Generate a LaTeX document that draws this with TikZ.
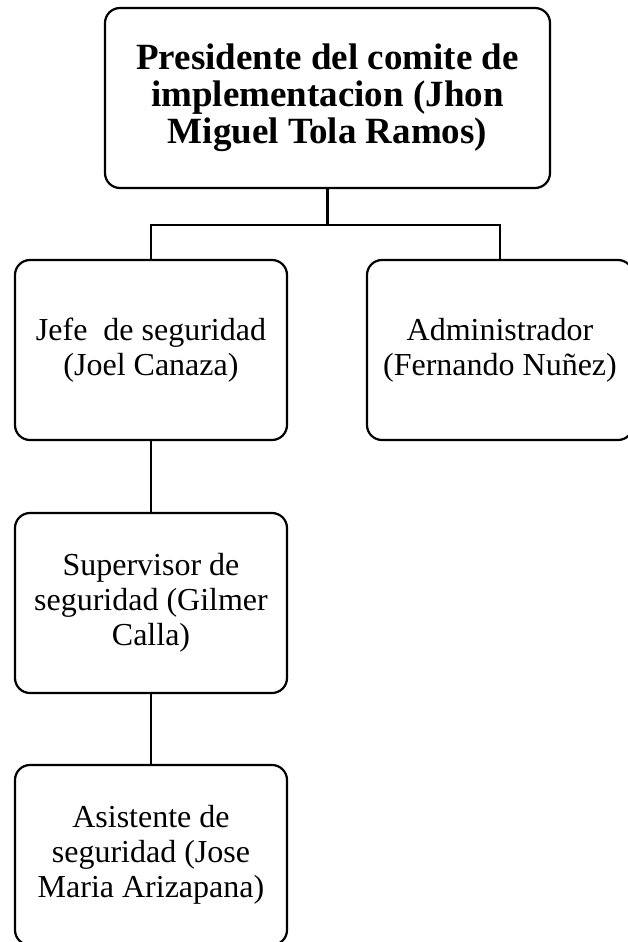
\documentclass[tikz,border=0pt]{standalone}
\usepackage{fontspec}
\setmainfont{Liberation Serif}
\usetikzlibrary{positioning}

\tikzset{
  cargo/.style={draw, rounded corners=15pt, line width=2.2pt, align=center,
    minimum width=272pt, minimum height=180pt, inner sep=0pt,
    font={\fontsize{32}{35}\selectfont}},
  jefatura/.style={cargo, minimum width=445pt,
    font={\bfseries\fontsize{37}{37}\selectfont}},
  enlace/.style={line width=2.2pt}
}

\begin{document}
\begin{tikzpicture}[x=1pt, y=-1pt]
   \clip (0,0) rectangle (628,942);
   \node[jefatura] (pres) at (327.5, 98) {Presidente del comite de\\implementacion (Jhon\\Miguel Tola Ramos)};
   \node[cargo] (jefe) at (151, 350) {Jefe~ de seguridad\\(Joel Canaza)};
   \node[cargo, minimum width=266pt] (admin) at (500, 350) {Administrador\\(Fernando Nuñez)};
   \node[cargo] (sup) at (151, 603) {Supervisor de\\seguridad (Gilmer\\Calla)};
   \node[cargo] (asis) at (151, 855) {Asistente de\\seguridad (Jose\\Maria Arizapana)};

   \coordinate (bar) at (327.5, 225);

   \draw[enlace] (pres.south) -- (bar) -| (jefe.north);
   \draw[enlace] (bar) -| (admin.north);
   \draw[enlace] (jefe) -- (sup);
   \draw[enlace] (sup) -- (asis);
\end{tikzpicture}
\end{document}
